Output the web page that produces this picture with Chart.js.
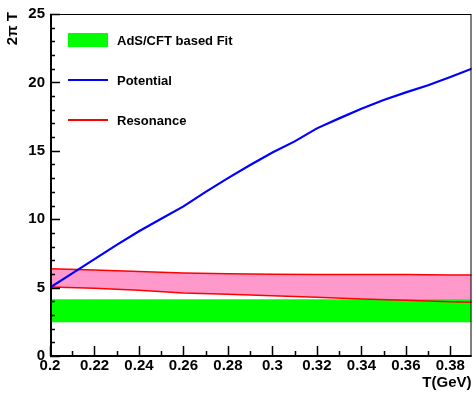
<!DOCTYPE html>
<html>
<head>
<meta charset="utf-8">
<script src="https://cdn.jsdelivr.net/npm/chart.js@4"></script>
<style>
  html, body { margin:0; padding:0; background:#fff; }
  #wrap { width:473px; height:396px; position:relative; }
</style>
</head>
<body>
<div id="wrap"><canvas id="chart"></canvas></div>
<script>
// ── DATA ─────────────────────────────────────────
const temps     = [0.20,0.21,0.22,0.23,0.24,0.25,0.26,0.27,0.28,0.29,0.30,0.31,0.32,0.33,0.34,0.35,0.36,0.37,0.38,0.39];
const potential = [5.0,6.04,7.08,8.12,9.12,10.03,10.94,12.0,13.0,13.96,14.88,15.69,16.64,17.37,18.08,18.71,19.27,19.79,20.4,21.02];

const resTemps  = [0.20,0.22,0.24,0.26,0.28,0.30,0.32,0.34,0.36,0.38,0.39];
const resLow    = [5.05,4.95,4.80,4.61,4.51,4.40,4.30,4.17,4.07,3.97,3.92];
const resHigh   = [6.37,6.28,6.17,6.07,6.01,5.97,5.96,5.96,5.95,5.93,5.92];

const fitTemps  = [0.20,0.39];
const fitLow    = [2.47,2.47];
const fitHigh   = [4.14,4.14];

const xTicks = [0.2,0.22,0.24,0.26,0.28,0.3,0.32,0.34,0.36,0.38];
const yTicks = [0,5,10,15,20,25];
const yTitle = '2π T';

const legendItems = [
  { label:'AdS/CFT based Fit', kind:'box',  color:'#00ff00' },
  { label:'Potential',         kind:'line', color:'#0000ff' },
  { label:'Resonance',         kind:'line', color:'#ff0000' }
];

const pts = (xs, ys) => xs.map((x,i) => ({ x, y: ys[i] }));
const FONT = 'Liberation Sans, Arial, Helvetica, sans-serif';

// ── ROOT-STYLE FRAME, INNER TICKS, LEGEND ────────
const rootFrame = {
  id: 'rootFrame',
  afterDraw(chart) {
    const { ctx, chartArea: a, scales: { x, y } } = chart;
    ctx.save();
    // thin box
    ctx.strokeStyle = '#000';
    ctx.lineWidth = 1;
    ctx.strokeRect(a.left + 0.5, a.top + 0.5, a.right - a.left - 1, a.bottom - a.top);
    // thick axes
    ctx.lineWidth = 2;
    ctx.beginPath();
    ctx.moveTo(a.left + 1, a.top);
    ctx.lineTo(a.left + 1, a.bottom);
    ctx.lineTo(a.right, a.bottom);
    ctx.stroke();
    // x ticks pointing up
    ctx.lineWidth = 1.5;
    ctx.beginPath();
    for (let k = 20; k <= 38; k++) {
      const px = Math.round(x.getPixelForValue(k / 100)) + 0.5;
      const len = k % 2 === 0 ? 10 : 5;
      ctx.moveTo(px, a.bottom);
      ctx.lineTo(px, a.bottom - len);
    }
    // y ticks pointing right
    for (let v = 0; v <= 25; v++) {
      const py = Math.round(y.getPixelForValue(v)) + 0.5;
      const len = v % 5 === 0 ? 10 : 5;
      ctx.moveTo(a.left, py);
      ctx.lineTo(a.left + len, py);
    }
    ctx.stroke();

    // y title, rotated, flush with the top of the frame
    ctx.save();
    ctx.translate(13, a.top - 2);
    ctx.rotate(-Math.PI / 2);
    ctx.font = 'bold 15px ' + FONT;
    ctx.fillStyle = '#000';
    ctx.textAlign = 'right';
    ctx.textBaseline = 'middle';
    ctx.fillText(yTitle, 0, 0);
    ctx.restore();

    // legend
    ctx.font = 'bold 13px ' + FONT;
    ctx.textBaseline = 'middle';
    ctx.textAlign = 'left';
    legendItems.forEach((it, i) => {
      const cy = 40 + i * 40;
      if (it.kind === 'box') {
        ctx.fillStyle = it.color;
        ctx.fillRect(68, cy - 7, 40, 14);
      } else {
        ctx.strokeStyle = it.color;
        ctx.lineWidth = 2;
        ctx.beginPath();
        ctx.moveTo(68, cy);
        ctx.lineTo(108, cy);
        ctx.stroke();
      }
      ctx.fillStyle = '#000';
      ctx.fillText(it.label, 117, cy + 1);
    });
    ctx.restore();
  }
};

// ── CHART ────────────────────────────────────────
new Chart(document.getElementById('chart'), {
  type: 'line',
  data: {
    datasets: [
      { data: pts(resTemps, resLow),  borderWidth:0, pointRadius:0, fill:false, order:5 },
      { data: pts(resTemps, resHigh), borderWidth:0, pointRadius:0, fill:'-1', backgroundColor:'#ff99cc', order:5 },
      { data: pts(fitTemps, fitLow),  borderWidth:0, pointRadius:0, fill:false, order:4 },
      { data: pts(fitTemps, fitHigh), borderWidth:0, pointRadius:0, fill:'-1', backgroundColor:'#00ff00', order:4 },
      { data: pts(resTemps, resLow),  borderColor:'#ff0000', borderWidth:1.5, pointRadius:0, fill:false, order:2 },
      { data: pts(resTemps, resHigh), borderColor:'#ff0000', borderWidth:1.5, pointRadius:0, fill:false, order:2 },
      { data: pts(temps, potential),  borderColor:'#0000ff', borderWidth:2.2, pointRadius:0, fill:false, order:1 }
    ]
  },
  options: {
    responsive:true, maintainAspectRatio:false, animation:false,
    layout: { padding: { top:12, right:1.5, left:0, bottom:0 } },
    plugins: { legend:{ display:false }, tooltip:{ enabled:false } },
    scales: {
      x: {
        type:'linear', min:0.2, max:0.3895,
        afterBuildTicks: s => { s.ticks = xTicks.map(v => ({ value:v })); },
        afterFit: s => { s.height = 40; },
        grid: { display:true, drawOnChartArea:false, drawTicks:false },
        border: { display:false },
        ticks: { autoSkip:false, maxRotation:0, padding:1, color:'#000',
                 font:{ family:FONT, size:15, weight:'bold' }, callback: v => String(v) },
        title: { display:true, text:'T(GeV)', align:'end', color:'#000',
                 font:{ family:FONT, size:15, weight:'bold' }, padding:{ top:0, bottom:4 } }
      },
      y: {
        min:0, max:25,
        afterBuildTicks: s => { s.ticks = yTicks.map(v => ({ value:v })); },
        afterFit: s => { s.width = 50; },
        grid: { display:true, drawOnChartArea:false, drawTicks:false },
        border: { display:false },
        ticks: { autoSkip:false, padding:5, color:'#000',
                 font:{ family:FONT, size:15, weight:'bold' }, callback: v => String(v) }
      }
    }
  },
  plugins: [rootFrame]
});
</script>
</body>
</html>
